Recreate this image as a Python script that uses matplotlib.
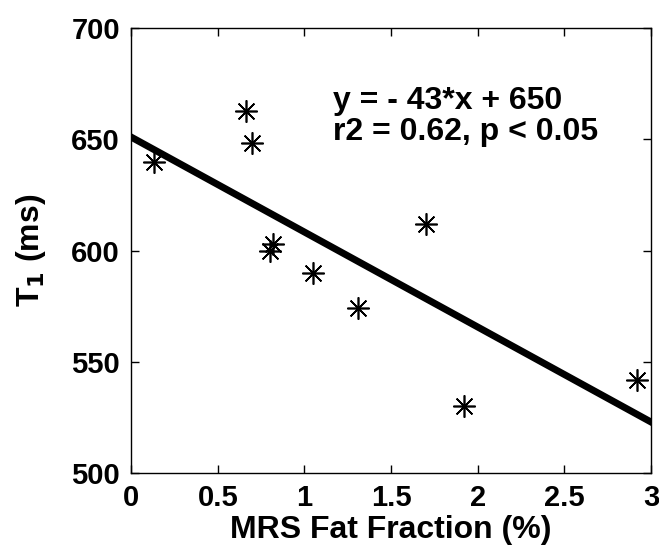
import matplotlib
matplotlib.use("Agg")
from matplotlib import pyplot as plt
import numpy as np

plt.rcParams["font.family"] = ["Liberation Sans", "DejaVu Sans"]
plt.rcParams["font.weight"] = "bold"

fat_fraction = [0.13, 0.66, 0.70, 0.80, 0.82, 1.05, 1.31, 1.70, 1.92, 2.92]
t1_ms = [640, 662.5, 648.5, 600, 603, 590, 574, 612, 530, 542]
slope = -42.7
intercept = 651

x_ticks = [0, 0.5, 1, 1.5, 2, 2.5, 3]
x_tick_labels = ["0", "0.5", "1", "1.5", "2", "2.5", "3"]
y_ticks = [500, 550, 600, 650, 700]

fig = plt.figure(figsize=(6.59, 5.5), dpi=100)
ax = fig.add_axes([0.199, 0.140, 0.789, 0.809])

ax.plot(fat_fraction, t1_ms, linestyle="none", marker=(8, 2, 0), markersize=16,
        markeredgewidth=1.2, color="black")
line_x = np.array([0, 3])
ax.plot(line_x, slope * line_x + intercept, color="black", linewidth=5)

ax.text(1.165, 667, "y = - 43*x + 650", fontsize=23, fontweight="bold", va="center")
ax.text(1.165, 653.5, "r2 = 0.62, p < 0.05", fontsize=23, fontweight="bold", va="center")

ax.set_xlim(0, 3)
ax.set_ylim(500, 700)
ax.set_xticks(x_ticks)
ax.set_xticklabels(x_tick_labels)
ax.set_yticks(y_ticks)
ax.tick_params(direction="in", top=True, right=True, length=6, width=1,
               labelsize=21, pad=8)
for lbl in ax.get_xticklabels() + ax.get_yticklabels():
    lbl.set_fontweight("bold")
for s in ax.spines.values():
    s.set_linewidth(1)

ax.set_xlabel("MRS Fat Fraction (%)", fontsize=23, fontweight="bold", labelpad=2)
ax.set_ylabel("T$_\\mathbf{1}$ (ms)", fontsize=23, fontweight="bold", labelpad=17)

fig.savefig("out.png", dpi=100)
